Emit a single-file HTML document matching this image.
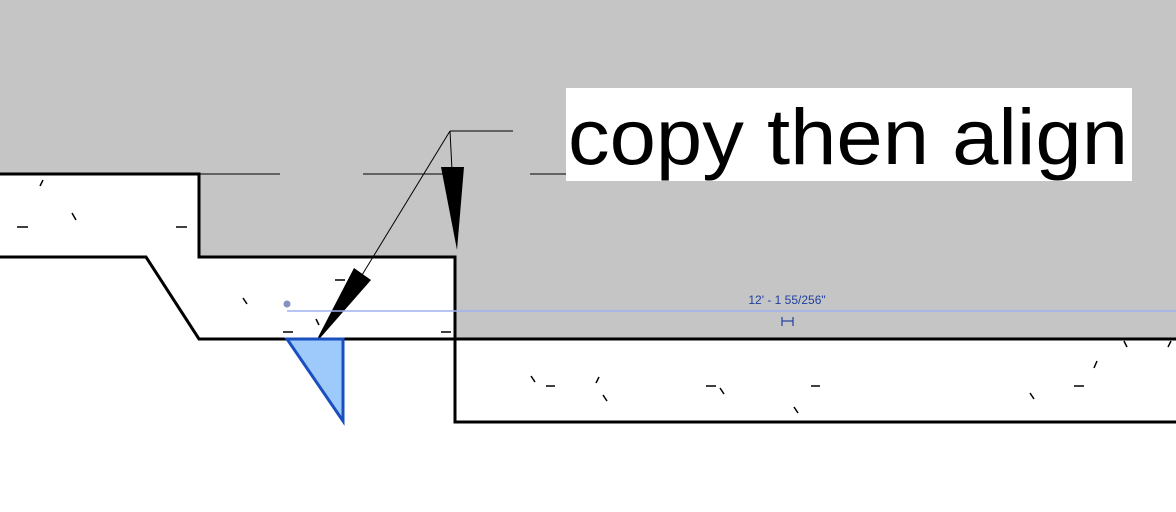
<!DOCTYPE html>
<html><head><style>body{margin:0;background:#fff}svg{display:block}</style></head><body>
<svg width="1176" height="512" viewBox="0 0 1176 512" xmlns="http://www.w3.org/2000/svg">
<rect width="1176" height="512" fill="#fff"/>
<polygon points="0,0 1176,0 1176,339 455,339 455,257 199,257 199,174 0,174" fill="#c5c5c5"/>
<g stroke="#000" stroke-width="3" fill="none">
<polyline points="0,174 199,174 199,257 455,257 455,422 1176,422"/>
<polyline points="0,257 146,257 199,339 287,339"/>
<line x1="343" y1="339" x2="1176" y2="339"/>
</g>
<g stroke="#000" stroke-width="1">
<line x1="199" y1="174" x2="280" y2="174"/>
<line x1="363" y1="174" x2="445" y2="174"/>
<line x1="530" y1="174" x2="566" y2="174"/>
<line x1="513" y1="131" x2="450" y2="131"/>
<line x1="450" y1="131" x2="452" y2="170"/>
<line x1="450" y1="131" x2="362" y2="275"/>
</g>
<polygon points="441,167 464,167 457,250" fill="#000"/>
<polygon points="354,268 371,280 314,345" fill="#000"/>
<polygon points="287,339 343,339 343,421" fill="#9ec9fb" stroke="#1a4fc0" stroke-width="3" stroke-linejoin="miter"/>
<line x1="287" y1="311" x2="1176" y2="311" stroke="#9fb0f0" stroke-width="1.5"/>
<circle cx="287" cy="304" r="3.5" fill="#8890c0"/>
<text x="787" y="304" font-family="Liberation Sans, sans-serif" font-size="12" fill="#2040a0" text-anchor="middle">12' - 1 55/256"</text>
<g stroke="#2040a0" stroke-width="1.2"><line x1="782" y1="317" x2="782" y2="326"/><line x1="793" y1="317" x2="793" y2="326"/><line x1="782" y1="321" x2="793" y2="321"/></g>
<g stroke="#000" stroke-width="1.5">
<line x1="40" y1="186" x2="43" y2="180"/><line x1="72" y1="213" x2="76" y2="220"/>
<line x1="17" y1="227" x2="28" y2="227"/><line x1="176" y1="227" x2="187" y2="227"/>
<line x1="243" y1="298" x2="247" y2="304"/><line x1="335" y1="280" x2="345" y2="280"/>
<line x1="316" y1="319" x2="319" y2="325"/><line x1="283" y1="332" x2="293" y2="332"/>
<line x1="441" y1="332" x2="451" y2="332"/>
<line x1="531" y1="376" x2="535" y2="382"/><line x1="546" y1="386" x2="555" y2="386"/>
<line x1="596" y1="383" x2="599" y2="377"/><line x1="603" y1="395" x2="607" y2="401"/>
<line x1="706" y1="386" x2="716" y2="386"/><line x1="720" y1="388" x2="724" y2="394"/>
<line x1="811" y1="386" x2="820" y2="386"/><line x1="794" y1="407" x2="798" y2="413"/>
<line x1="1030" y1="393" x2="1034" y2="399"/><line x1="1074" y1="386" x2="1084" y2="386"/>
<line x1="1094" y1="368" x2="1097" y2="361"/><line x1="1124" y1="341" x2="1127" y2="347"/>
<line x1="1168" y1="347" x2="1171" y2="341"/>
</g>
<rect x="566" y="88" width="566" height="93" fill="#fff"/>
<text x="568" y="164" font-family="Liberation Sans, sans-serif" font-size="79" fill="#000" textLength="560" lengthAdjust="spacingAndGlyphs">copy then align</text>
</svg>
</body></html>
